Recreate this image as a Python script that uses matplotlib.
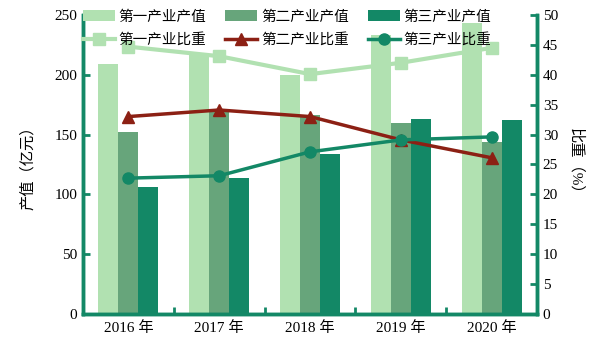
import numpy as np
import matplotlib.pyplot as plt

plt.rcParams['font.family'] = ['Liberation Serif', 'Noto Sans CJK SC']

years = ['2016 年', '2017 年', '2018 年', '2019 年', '2020 年']
output_1 = [209, 218, 200, 233, 243]
output_2 = [152, 169, 166, 160, 144]
output_3 = [106, 114, 134, 163, 162]
share_1 = [44.7, 43.1, 40.1, 42.0, 44.5]
share_2 = [33.0, 34.1, 33.0, 29.1, 26.1]
share_3 = [22.7, 23.1, 27.1, 29.1, 29.6]

c_light = '#b1e1b1'
c_mid = '#67a57b'
c_dark = '#138866'
c_red = '#8c2014'
axis_col = '#138866'

fig = plt.figure(figsize=(6.05, 3.4), dpi=100)
ax = fig.add_axes([0.137, 0.077, 0.751, 0.879])
ax2 = ax.twinx()

x = np.arange(len(years))
w = 0.22
b1 = ax.bar(x - w, output_1, w, color=c_light, label='第一产业产值')
b2 = ax.bar(x, output_2, w, color=c_mid, label='第二产业产值')
b3 = ax.bar(x + w, output_3, w, color=c_dark, label='第三产业产值')

l1, = ax2.plot(x, share_1, color=c_light, lw=3, marker='s', ms=8,
               label='第一产业比重')
l2, = ax2.plot(x, share_2, color=c_red, lw=2.5, marker='^', ms=9,
               label='第二产业比重')
l3, = ax2.plot(x, share_3, color=c_dark, lw=2.5, marker='o', ms=8,
               label='第三产业比重')

ax.set_xlim(-0.5, 4.5)
ax.set_ylim(0, 250)
ax2.set_ylim(0, 50)
ax.set_yticks(np.arange(0, 251, 50))
ax2.set_yticks(np.arange(0, 51, 5))
ax.set_xticks(x)
ax.set_xticklabels(years)
ax.set_xticks(x[:-1] + 0.5, minor=True)

for a in (ax, ax2):
    for s in a.spines.values():
        s.set_color(axis_col)
        s.set_linewidth(2.5)
    a.spines['top'].set_visible(False)
ax.tick_params(axis='y', direction='in', length=5, width=2, color=axis_col,
               labelsize=11, pad=4)
ax2.tick_params(axis='y', direction='in', length=5, width=2, color=axis_col,
                labelsize=11, pad=4)
ax.tick_params(axis='x', which='major', length=0, labelsize=11, pad=5)
ax.tick_params(axis='x', which='minor', direction='in', length=5, width=2,
               color=axis_col)

ax.set_ylabel('产值（亿元）', fontsize=11, labelpad=14)
ax2.set_ylabel('比重（%）', fontsize=11, rotation=-90, labelpad=18)

handles = [b1, l1, b2, l2, b3, l3]
leg = ax2.legend(handles=handles, ncol=3, loc='upper left',
                 bbox_to_anchor=(0.0, 1.018), frameon=False, fontsize=10.5,
                 handlelength=2.2, handletextpad=0.25, columnspacing=1.3,
                 labelspacing=0.62, borderaxespad=0, borderpad=0)
for t in leg.get_texts():
    t.set_fontfamily(['Noto Sans CJK SC'])

fig.savefig('out.png', dpi=100)
